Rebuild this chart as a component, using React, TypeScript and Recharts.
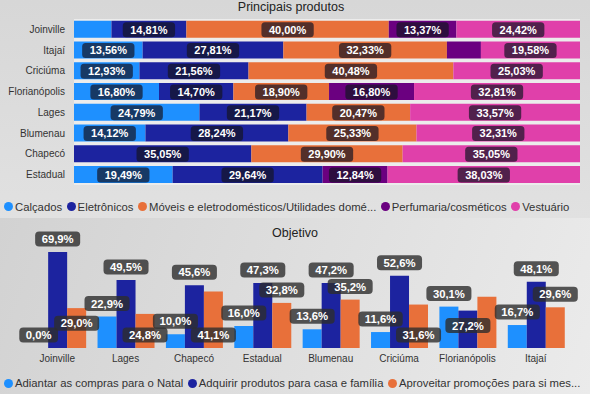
import React from "react";
import { BarChart, Bar, XAxis, YAxis, LabelList, CartesianGrid } from "recharts";

const FONT = "'Liberation Sans', Arial, Helvetica, sans-serif";

// Principais produtos (% por cidade)
const cities = ["Joinville", "Itajaí", "Criciúma", "Florianópolis", "Lages", "Blumenau", "Chapecó", "Estadual"];
const calcados = [7.4, 13.56, 12.93, 16.8, 24.79, 14.12, 0, 19.49];
const eletronicos = [14.81, 27.81, 21.56, 14.7, 21.17, 28.24, 35.05, 29.64];
const moveis = [40.0, 32.33, 40.48, 18.9, 20.47, 25.33, 29.9, 0];
const perfumaria = [13.37, 6.72, 0, 16.8, 0, 0, 0, 12.84];
const vestuario = [24.42, 19.58, 25.03, 32.81, 33.57, 32.31, 35.05, 38.03];

// Objetivo (% por cidade)
const objCities = ["Joinville", "Lages", "Chapecó", "Estadual", "Blumenau", "Criciúma", "Florianópolis", "Itajaí"];
const adiantar = [0.0, 22.9, 10.0, 16.0, 13.6, 11.6, 30.1, 16.7];
const adquirir = [69.9, 49.5, 45.6, 47.3, 47.2, 52.6, 27.2, 48.1];
const aproveitar = [29.0, 24.8, 41.1, 32.8, 35.2, 31.6, 37.3, 29.6];

const products = [
  { key: "calcados", name: "Calçados", color: "#1e90ff", values: calcados },
  { key: "eletronicos", name: "Eletrônicos", color: "#1c239f", values: eletronicos },
  { key: "moveis", name: "Móveis e eletrodomésticos/Utilidades domésticas", color: "#e8703a", values: moveis },
  { key: "perfumaria", name: "Perfumaria/cosméticos", color: "#6b0080", values: perfumaria },
  { key: "vestuario", name: "Vestuário", color: "#e040aa", values: vestuario },
];

const objSeries = [
  { key: "adiantar", name: "Adiantar as compras para o Natal", color: "#1e90ff", values: adiantar },
  { key: "adquirir", name: "Adquirir produtos para casa e família", color: "#1c239f", values: adquirir },
  { key: "aproveitar", name: "Aproveitar promoções para si mesmo(a)", color: "#e8703a", values: aproveitar },
];

const productRows = cities.map((city, i) => {
  const row: any = { city };
  products.forEach((p) => (row[p.key] = p.values[i]));
  return row;
});

const objRows = objCities.map((city, i) => {
  const row: any = { city };
  objSeries.forEach((s) => (row[s.key] = s.values[i]));
  return row;
});

const canvas = typeof document !== "undefined" ? document.createElement("canvas") : null;
function textWidth(text: string, font: string) {
  const ctx = canvas ? canvas.getContext("2d") : null;
  if (!ctx) return text.length * 6.2;
  ctx.font = font;
  return ctx.measureText(text).width;
}

function ellipsize(text: string, font: string, maxW: number) {
  if (textWidth(text, font) <= maxW) return text;
  let t = text;
  while (t.length > 1 && textWidth(t + "...", font) > maxW) t = t.slice(0, -1);
  return t + "...";
}

const fmt2 = (v: number) => v.toFixed(2).replace(".", ",") + "%";
const fmt1 = (v: number) => v.toFixed(1).replace(".", ",") + "%";

const TOP_LABEL_FONT = `bold 11px ${FONT}`;
const OBJ_LABEL_FONT = `bold 11.3px ${FONT}`;
const LEGEND_FONT = `11.3px ${FONT}`;

function getBox(p: any) {
  const vb = p.viewBox && typeof p.viewBox.x === "number" ? p.viewBox : p;
  return { x: Number(vb.x), y: Number(vb.y), width: Number(vb.width), height: Number(vb.height) };
}

function TopLabel(p: any) {
  const v = Number(p.value);
  if (!v) return null;
  const { x, y, width, height } = getBox(p);
  const text = fmt2(v);
  const bw = textWidth(text, TOP_LABEL_FONT) + 15;
  if (bw > width) return null;
  const cx = x + width / 2;
  const cy = y + height / 2 + 0.5;
  return (
    <g>
      <rect x={cx - bw / 2} y={cy - 7.5} width={bw} height={15} rx={3.5} fill="rgba(20,20,35,0.7)" />
      <text x={cx} y={cy} dy="0.36em" textAnchor="middle" fill="#fff" fontSize={11} fontWeight="bold" fontFamily={FONT}>
        {text}
      </text>
    </g>
  );
}

// bottom chart geometry
const OBJ_W = 590;
const OBJ_H = 150;
const OBJ_M = { top: 20, right: 20, bottom: 0, left: 23 };
const OBJ_XH = 20;
const OBJ_MAX = 80;
const OBJ_GAP = 0.09;

type Mode = "out" | "inEnd" | "inBase" | null;

// place labels series by series: above the bar, else inside its end, else at its base, else hide
function placeObjLabels(): Mode[][] {
  const plotW = OBJ_W - OBJ_M.left - OBJ_M.right;
  const plotH = OBJ_H - OBJ_M.top - OBJ_M.bottom - OBJ_XH;
  const band = plotW / objCities.length;
  const off = band * OBJ_GAP;
  const size = Math.floor((band - 2 * off) / objSeries.length);
  const base = OBJ_M.top + plotH;
  const placed: { cx: number; cy: number; w: number }[] = [];
  return objSeries.map((s, si) =>
    s.values.map((v, ci) => {
      const cx = OBJ_M.left + band * ci + off + size * si + size / 2;
      const top = base - (v / OBJ_MAX) * plotH;
      const w = textWidth(fmt1(v), OBJ_LABEL_FONT) + 13;
      const cands: [Mode, number][] = [
        ["out", top - 13],
        ["inEnd", top + 15],
        ["inBase", base - 13],
      ];
      for (const [m, cy] of cands) {
        const hit = placed.some((b) => Math.abs(b.cx - cx) < (b.w + w) / 2 && Math.abs(b.cy - cy) < 11);
        if (!hit) {
          placed.push({ cx, cy, w });
          return m;
        }
      }
      return null;
    })
  );
}

const objModes = placeObjLabels();

function makeObjLabel(si: number) {
  return (p: any) => {
    const v = Number(p.value);
    let idx = typeof p.index === "number" ? p.index : objSeries[si].values.indexOf(v);
    const mode = objModes[si][idx];
    if (!mode) return null;
    const { x, y, width, height } = getBox(p);
    const cx = x + width / 2;
    const base = y + height;
    const top = v === 0 ? base : y;
    const cy = mode === "out" ? top - 13 : mode === "inEnd" ? top + 15 : base - 13;
    const text = fmt1(v);
    const bw = textWidth(text, OBJ_LABEL_FONT) + 13;
    return (
      <g>
        <rect x={cx - bw / 2} y={cy - 7.5} width={bw} height={15} rx={4} fill="rgba(45,45,45,0.8)" />
        <text x={cx} y={cy} dy="0.36em" textAnchor="middle" fill="#fff" fontSize={11.3} fontWeight="bold" fontFamily={FONT}>
          {text}
        </text>
      </g>
    );
  };
}

function Legend({ items, maxW }: { items: { name: string; color: string }[]; maxW: number }) {
  return (
    <div style={{ display: "flex", alignItems: "center", fontFamily: FONT, fontSize: 11.3, lineHeight: "14px", color: "#333", whiteSpace: "nowrap" }}>
      {items.map((it) => (
        <div key={it.name} style={{ display: "flex", alignItems: "center", marginRight: 4.5 }}>
          <span style={{ display: "inline-block", width: 9, height: 9, borderRadius: "50%", background: it.color, marginRight: 2 }} />
          <span>{ellipsize(it.name, LEGEND_FONT, maxW)}</span>
        </div>
      ))}
    </div>
  );
}

function ObjChart({ labels }: { labels: boolean }) {
  return (
    <BarChart width={OBJ_W} height={OBJ_H} data={objRows} margin={OBJ_M} barCategoryGap={`${OBJ_GAP * 100}%`} barGap={0}>
      <XAxis
        dataKey="city"
        height={OBJ_XH}
        axisLine={false}
        tickLine={false}
        tickSize={0}
        tickMargin={7}
        interval={0}
        tick={labels ? false : { fontSize: 10, fill: "#333", fontFamily: FONT }}
      />
      <YAxis hide domain={[0, OBJ_MAX]} allowDataOverflow />
      {objSeries.map((s, si) => (
        <Bar
          key={s.key}
          dataKey={s.key}
          name={s.name}
          fill={labels ? "transparent" : s.color}
          minPointSize={labels ? 1 : 0}
          isAnimationActive={false}
        >
          {labels && <LabelList dataKey={s.key} content={makeObjLabel(si)} />}
        </Bar>
      ))}
    </BarChart>
  );
}

export default function App() {
  return (
    <div style={{ position: "absolute", left: 0, top: 0, width: 590, height: 394, overflow: "hidden", fontFamily: FONT }}>
      <div style={{ position: "absolute", left: 0, top: 0, width: 590, height: 218, background: "linear-gradient(#d7d7d7, #e1e1e1)" }}>
        <div style={{ position: "absolute", left: 0, top: 0, width: 582, textAlign: "center", fontSize: 12.5, lineHeight: "14px", color: "#222" }}>
          Principais produtos
        </div>
        <div style={{ position: "absolute", left: 0, top: 0 }}>
          <BarChart layout="vertical" width={590} height={186} data={productRows} margin={{ top: 19, right: 10, bottom: 1, left: 0 }} barCategoryGap="8%">
            <CartesianGrid horizontal={false} vertical={false} fill="#ececec" />
            <XAxis type="number" domain={[0, 100]} allowDataOverflow hide />
            <YAxis
              type="category"
              dataKey="city"
              width={74}
              axisLine={false}
              tickLine={false}
              tickSize={0}
              tickMargin={9}
              interval={0}
              tick={{ fontSize: 10, fill: "#333", fontFamily: FONT }}
            />
            {products.map((p) => (
              <Bar key={p.key} dataKey={p.key} name={p.name} stackId="a" fill={p.color} isAnimationActive={false}>
                <LabelList dataKey={p.key} content={TopLabel} />
              </Bar>
            ))}
          </BarChart>
        </div>
        <div style={{ position: "absolute", left: 4, top: 199.5 }}>
          <Legend items={products} maxW={232} />
        </div>
      </div>
      <div style={{ position: "absolute", left: 0, top: 218, width: 590, height: 176, background: "linear-gradient(110deg, #d2d2d2, #ebebeb)" }}>
        <div style={{ position: "absolute", left: 0, top: 8, width: 590, textAlign: "center", fontSize: 12.5, lineHeight: "14px", color: "#222" }}>
          Objetivo
        </div>
        <div style={{ position: "absolute", left: 0, top: 0 }}>
          <ObjChart labels={false} />
        </div>
        <div style={{ position: "absolute", left: 0, top: 0 }}>
          <ObjChart labels={true} />
        </div>
        <div style={{ position: "absolute", left: 4, top: 158 }}>
          <Legend items={objSeries} maxW={186} />
        </div>
      </div>
    </div>
  );
}
